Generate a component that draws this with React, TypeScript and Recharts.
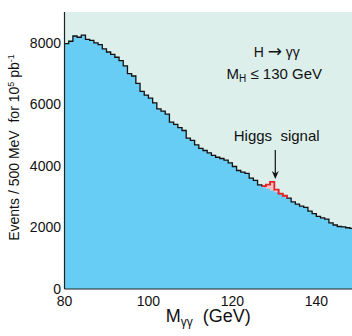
import { ComposedChart, Area, XAxis, YAxis, CartesianGrid } from 'recharts';

// diphoton mass bins (GeV, lower edge, 1 GeV wide)
const massBins = [
  80, 81, 82, 83, 84, 85, 86, 87, 88, 89, 90, 91, 92, 93, 94, 95, 96, 97, 98, 99,
  100, 101, 102, 103, 104, 105, 106, 107, 108, 109, 110, 111, 112, 113, 114, 115, 116, 117, 118, 119,
  120, 121, 122, 123, 124, 125, 126, 127, 128, 129, 130, 131, 132, 133, 134, 135, 136, 137, 138, 139,
  140, 141, 142, 143, 144, 145, 146, 147, 148,
];

// events / 500 MeV, background + signal
const events = [
  7970, 8050, 8220, 8180, 8250, 8110, 8080, 8000, 7940, 7800, 7700, 7620, 7530, 7420, 7250, 7000, 6920, 6680, 6420, 6300,
  6200, 6050, 5850, 5780, 5680, 5420, 5350, 5240, 5150, 4900, 4830, 4680, 4570, 4500, 4420, 4340, 4280, 4240, 4190, 4100,
  3980, 3850, 3800, 3760, 3600, 3530, 3380, 3340, 3390, 3480, 3230, 3100, 3030, 2950, 2830, 2760, 2690, 2650, 2530, 2450,
  2360, 2310, 2270, 2150, 2080, 2030, 2020, 1990, 1970,
];

// bins where the Higgs signal sits on top of the smooth background
const signalBins = [127, 128, 129, 130, 131, 132];
const signalBackground = [3310, 3255, 3200, 3145, 3080, 3000];

const xTicks = [80, 100, 120, 140];
const yTicks = [0, 2000, 4000, 6000, 8000];

const FONT = '"Liberation Sans", Arial, Helvetica, sans-serif';

const lastBin = massBins[massBins.length - 1];
const lastSignal = signalBins[signalBins.length - 1];

const data = [
  ...massBins.map((m, i) => {
    const s = signalBins.indexOf(m);
    const row: any = { m, events: events[i] };
    if (s >= 0) {
      row.bg = signalBackground[s];
      row.sig = events[i] - signalBackground[s];
    } else if (m === lastSignal + 1) {
      row.bg = events[i];
      row.sig = 0;
    }
    return row;
  }),
  // closing edge of the last bin for the step line
  { m: lastBin + 1, events: events[events.length - 1] },
];

function XTitle({ viewBox }: any) {
  const cx = viewBox.x + viewBox.width / 2;
  const y = viewBox.y + 33;
  return (
    <text x={cx} y={y} textAnchor="middle" fontSize={18} fill="#111" fontFamily={FONT}>
      <tspan>M</tspan>
      <tspan dy={4} fontSize={12}>γγ</tspan>
      <tspan dy={-4}>{'\u00a0\u00a0(GeV)'}</tspan>
    </text>
  );
}

function YTitle({ viewBox }: any) {
  const x = viewBox.x + 18.5;
  const y = viewBox.y + viewBox.height / 2 - 3;
  return (
    <text x={x} y={y} transform={`rotate(-90 ${x} ${y})`} textAnchor="middle" fontSize={14} fill="#111" fontFamily={FONT}>
      <tspan>{'Events / 500 MeV\u00a0\u00a0for 10'}</tspan>
      <tspan dy={-5} fontSize={9}>5</tspan>
      <tspan dy={5}>{' pb'}</tspan>
      <tspan dy={-5} fontSize={9}>-1</tspan>
    </text>
  );
}

export default function App() {
  const tickStyle = { fontSize: 14, fill: '#111', fontFamily: FONT };
  return (
    <div style={{ position: 'fixed', left: 0, top: 0, width: 352, height: 336, overflow: 'hidden', background: '#fff', fontFamily: FONT }}>
      <ComposedChart width={352} height={336} data={data} margin={{ top: 12, right: 0, bottom: 0, left: 0 }}>
        <CartesianGrid xAxisId="x" yAxisId="y" horizontal={false} vertical={false} fill="#dcefeb" />
        <XAxis
          xAxisId="x"
          dataKey="m"
          type="number"
          domain={[80, 148.5]}
          allowDataOverflow
          ticks={xTicks}
          tickLine={false}
          tickSize={0}
          tickMargin={7.5}
          tick={tickStyle}
          axisLine={{ stroke: '#222', strokeWidth: 1.2 }}
          height={47}
          label={<XTitle />}
        />
        <XAxis
          xAxisId="xin"
          type="number"
          orientation="bottom"
          mirror
          height={0}
          domain={[80, 148.5]}
          allowDataOverflow
          ticks={[100, 120, 140]}
          tick={false}
          tickSize={5}
          tickLine={{ stroke: '#222' }}
          axisLine={false}
        />
        <XAxis
          xAxisId="top"
          type="number"
          orientation="top"
          mirror
          height={0}
          domain={[80, 148.5]}
          allowDataOverflow
          ticks={[100, 120, 140]}
          tick={false}
          tickSize={5}
          tickLine={{ stroke: '#444' }}
          axisLine={{ stroke: '#888', strokeWidth: 1.2 }}
        />
        <YAxis
          yAxisId="y"
          type="number"
          domain={[0, 9000]}
          allowDataOverflow
          ticks={yTicks}
          interval={0}
          tickLine={false}
          tickSize={0}
          tickMargin={3.5}
          tick={tickStyle}
          axisLine={{ stroke: '#222', strokeWidth: 1.2 }}
          width={64.5}
          label={<YTitle />}
        />
        <YAxis
          yAxisId="yin"
          type="number"
          orientation="left"
          mirror
          width={0}
          domain={[0, 9000]}
          allowDataOverflow
          ticks={[2000, 4000, 6000, 8000]}
          tick={false}
          tickSize={5}
          tickLine={{ stroke: '#222' }}
          axisLine={false}
        />
        <YAxis
          yAxisId="right"
          type="number"
          orientation="right"
          mirror
          width={0}
          domain={[0, 9000]}
          allowDataOverflow
          ticks={[2000, 4000, 6000, 8000]}
          tick={false}
          tickSize={4}
          tickLine={{ stroke: '#444' }}
          axisLine={false}
        />
        <Area
          xAxisId="x"
          yAxisId="y"
          type="stepAfter"
          dataKey="events"
          stroke="#111"
          strokeWidth={1.3}
          fill="#68cdf4"
          fillOpacity={1}
          isAnimationActive={false}
        />
        <Area
          xAxisId="x"
          yAxisId="y"
          type="stepAfter"
          dataKey="bg"
          stackId="higgs"
          stroke="none"
          fill="none"
          isAnimationActive={false}
        />
        <Area
          xAxisId="x"
          yAxisId="y"
          type="stepAfter"
          dataKey="sig"
          stackId="higgs"
          stroke="#e8242b"
          strokeWidth={1.8}
          fill="#f8c2c2"
          fillOpacity={1}
          isAnimationActive={false}
        />
      </ComposedChart>
      <svg width={352} height={336} style={{ position: 'absolute', left: 0, top: 0, pointerEvents: 'none' }}>
        <g fontFamily={FONT} fill="#111" textAnchor="middle">
          <text x={276.7} y={56.7} fontSize={14}>
            <tspan>{'H '}</tspan>
            <tspan fontFamily="DejaVu Sans" fontSize={17}>→</tspan>
            <tspan>{' γγ'}</tspan>
          </text>
          <text x={274.3} y={79} fontSize={15}>
            <tspan>M</tspan>
            <tspan dy={3} fontSize={10}>H</tspan>
            <tspan dy={-3}>{' ≤ 130 GeV'}</tspan>
          </text>
          <text x={276.7} y={141} fontSize={15}>{'Higgs\u00a0\u00a0signal'}</text>
        </g>
        <line x1={275.3} y1={150} x2={275.3} y2={174} stroke="#111" strokeWidth={1.2} />
        <path d="M271.8 171 L275.3 179 L278.8 171 L275.3 173.5 Z" fill="#111" />
      </svg>
    </div>
  );
}
